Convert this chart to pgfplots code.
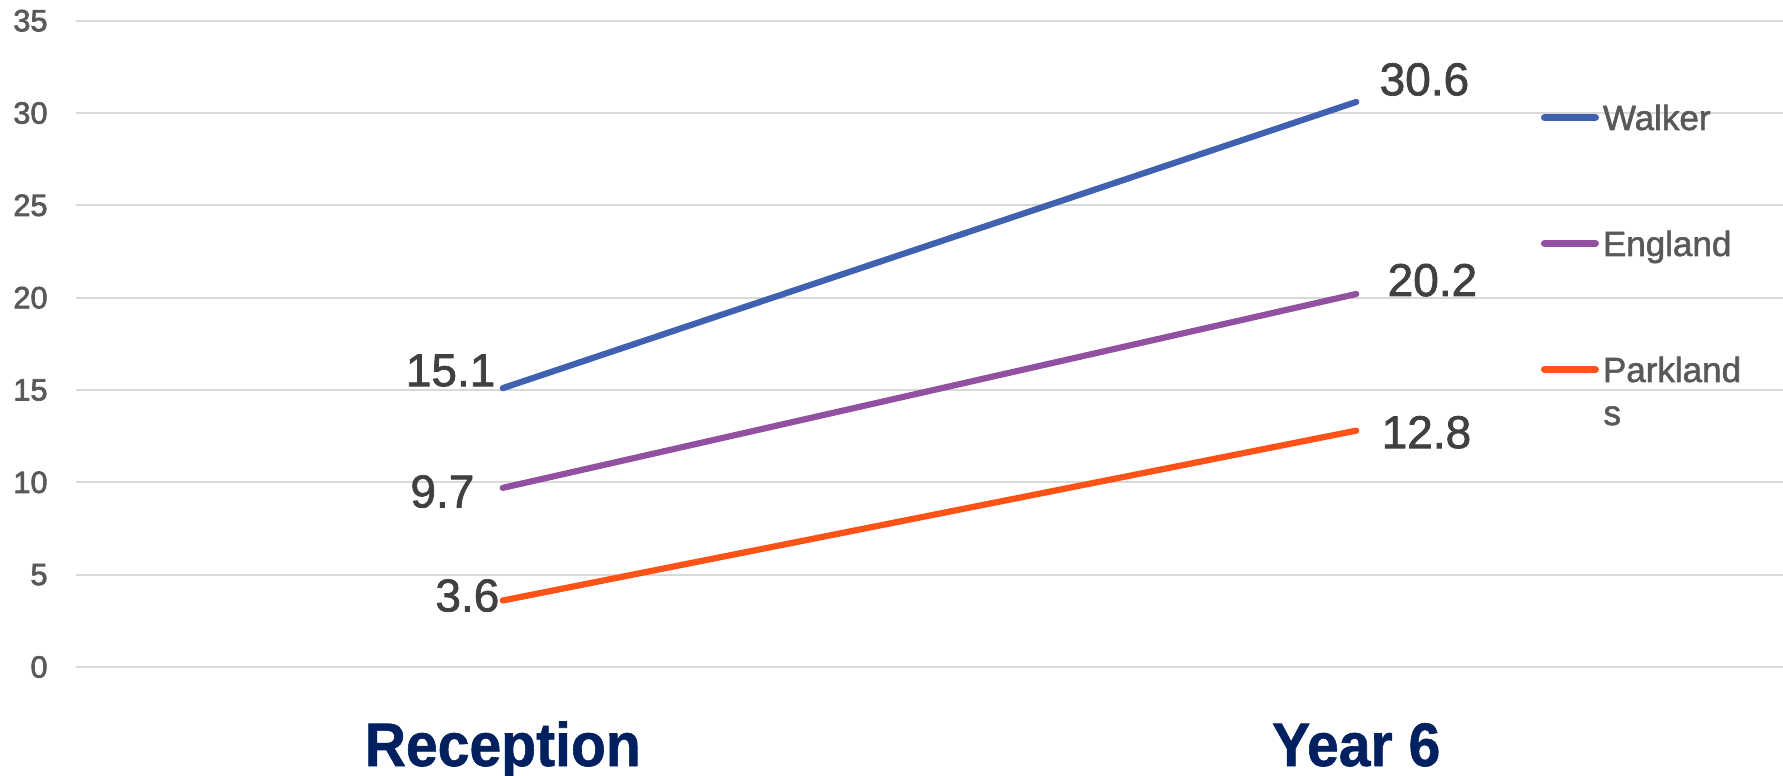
\documentclass[border=0pt]{standalone}
\usepackage{fontspec}
\setmainfont{Liberation Sans}
\newfontfamily\semib{Liberation Sans}[FakeBold=1.6]
\newfontfamily\semibb{Liberation Sans}[FakeBold=2.2]
\newfontfamily\heavy{Liberation Sans Bold}[FakeBold=1.0]
\usepackage{pgfplots}
\pgfplotsset{compat=1.18}
\definecolor{walker}{RGB}{64,96,176}
\definecolor{england}{RGB}{145,80,160}
\definecolor{parkland}{RGB}{255,82,22}
\definecolor{gridgrey}{RGB}{217,217,217}
\definecolor{tickgrey}{RGB}{89,89,89}
\definecolor{labgrey}{RGB}{64,64,64}
\definecolor{navy}{RGB}{0,32,96}
\begin{document}
\begin{tikzpicture}
\begin{axis}[
  at={(38pt,54.5pt)}, anchor=south west,
  scale only axis, width=853.5pt, height=323.15pt,
  xmin=-0.5, xmax=1.5, ymin=0, ymax=35,
  xtick={0,1}, xticklabels={Reception,Year 6},
  ytick={0,5,...,35},
  ymajorgrids, grid style={gridgrey, line width=1pt},
  axis line style={draw=none}, tick style={draw=none},
  /pgf/number format/assume math mode=true,
  yticklabel style={font=\semibb\fontsize{15.4}{18}\selectfont, text=tickgrey, anchor=east, inner sep=0pt, xshift=-14pt},
  xticklabel style={font=\heavy\fontsize{30.7}{34}\selectfont, text=navy, anchor=base, inner sep=0pt, yshift=-49.5pt, xscale=0.93},
  clip=false,
  legend style={at={(axis description cs:0.8582,0.8696)}, anchor=north west, draw=none, fill=none,
     inner sep=0pt, outer sep=0pt, column sep=2pt, row sep=50.5pt,
     nodes={font=\semib\fontsize{17.5}{20}\selectfont, text=tickgrey, inner sep=0pt, text height=12.5pt, text depth=0pt}},
  legend cell align=left,
  legend image code/.code={\draw[#1, line width=3.6pt, line cap=round] (1.8pt,0pt) -- (27.2pt,0pt);},
]
\addplot[walker, line width=3.1pt, line cap=round] coordinates {(0,15.1) (1,30.6)};
\addlegendentry{Walker}
\addplot[england, line width=3.1pt, line cap=round] coordinates {(0,9.7) (1,20.2)};
\addlegendentry{England}
\addplot[parkland, line width=3.1pt, line cap=round] coordinates {(0,3.6) (1,12.8)};
\addlegendentry{Parkland}
\tikzset{dl/.style={font=\semib\fontsize{23}{26}\selectfont, text=labgrey, inner sep=0pt, text height=16.5pt, text depth=0pt}}
\node[dl, anchor=east, xshift=-3.5pt, yshift=9.25pt] at (axis cs:0,15.1) {15.1};
\node[dl, anchor=east, xshift=-14pt, yshift=-1.5pt] at (axis cs:0,9.7) {9.7};
\node[dl, anchor=east, xshift=-1.5pt, yshift=2.8pt] at (axis cs:0,3.6) {3.6};
\node[dl, anchor=west, xshift=11.5pt, yshift=11.6pt] at (axis cs:1,30.6) {30.6};
\node[dl, anchor=west, xshift=15.5pt, yshift=7.25pt] at (axis cs:1,20.2) {20.2};
\node[dl, anchor=west, xshift=12.5pt, yshift=-0.5pt] at (axis cs:1,12.8) {12.8};
\node[font=\semib\fontsize{17.5}{20}\selectfont, text=tickgrey, inner sep=0pt, anchor=base west] at (axis description cs:0.8946,0.3744) {s};
\end{axis}
\pgfresetboundingbox
\path (0,0) rectangle (891.5pt,388pt);
\end{tikzpicture}
\end{document}
